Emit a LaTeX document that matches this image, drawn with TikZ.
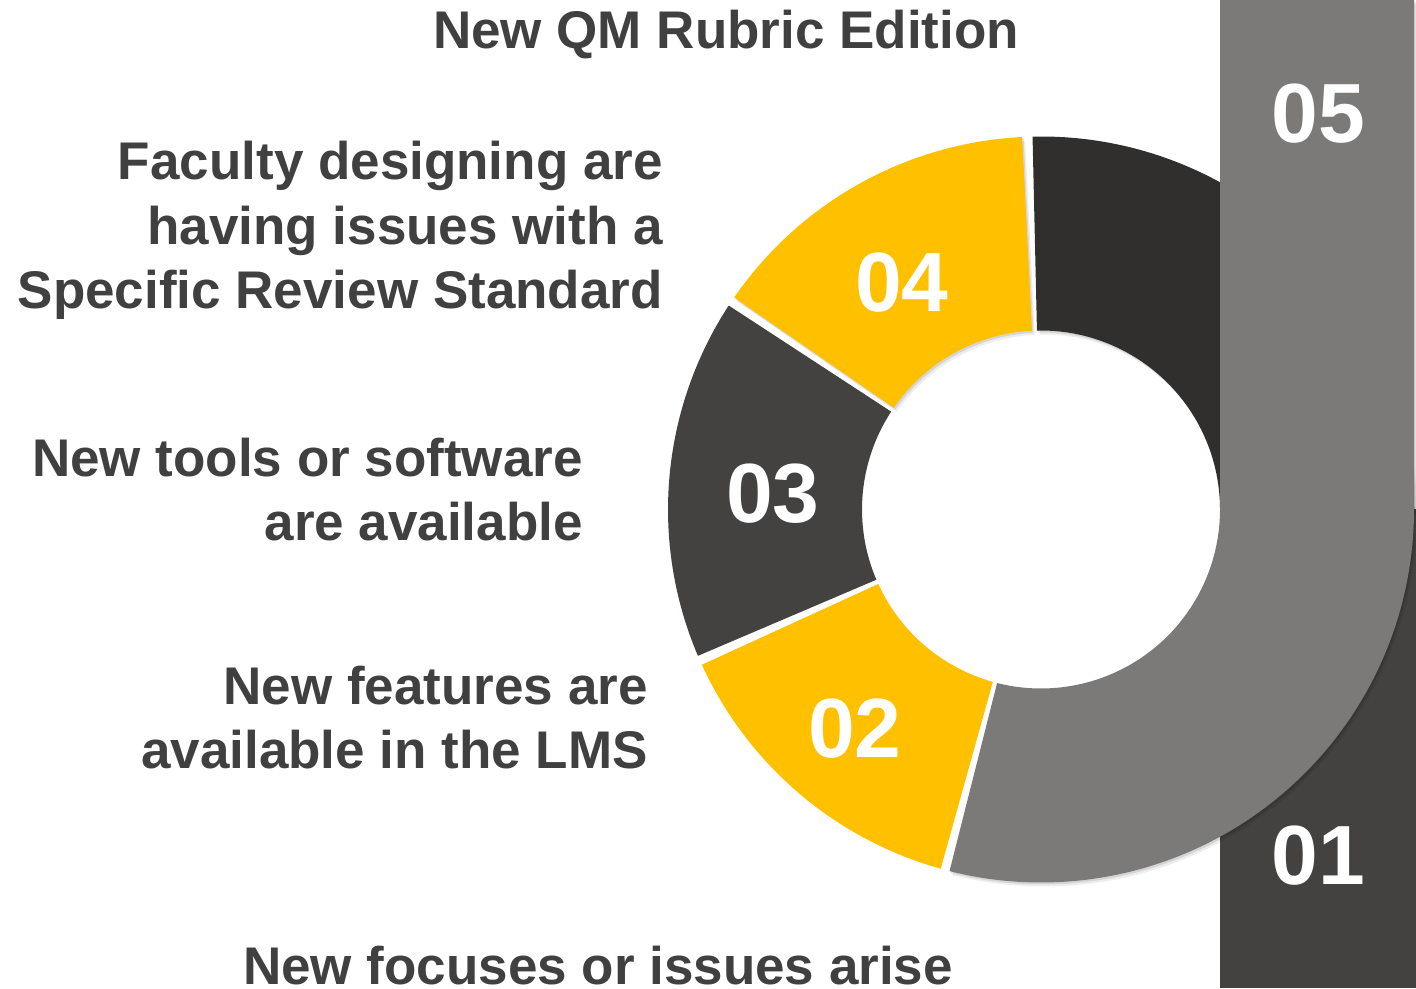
\documentclass[tikz,border=0pt]{standalone}
\usepackage{fontspec}
\setmainfont{Liberation Sans}
\usetikzlibrary{calc}
\definecolor{txt}{HTML}{404040}
\definecolor{qyellow}{HTML}{FFC000}
\definecolor{qdark}{HTML}{444240}
\definecolor{qdarker}{HTML}{302F2D}
\definecolor{qgray}{HTML}{7B7A78}
\definecolor{qbar}{HTML}{444240}
\newcommand{\qsector}[3][]{%
  \fill[#1] ($(C)+(#2:\qR)$) arc[start angle=#2,end angle=#3,radius=\qR]
    -- ($(C)+(#3:\qr)$) arc[start angle=#3,end angle=#2,radius=\qr] -- cycle;}
\begin{document}
\begin{tikzpicture}[x=1pt,y=1pt,
  lbl/.style={text=txt, font=\fontsize{53}{64.5}\selectfont\bfseries, inner sep=0pt},
  num/.style={text=white, font=\fontsize{84}{84}\selectfont\bfseries, inner sep=0pt, anchor=base},
  shad/.style={preaction={fill=black,opacity=0.10,transform canvas={xshift=1.5pt,yshift=-2pt}},
               preaction={fill=black,opacity=0.07,transform canvas={xshift=3pt,yshift=-4pt}}}
]
\useasboundingbox (0,0) rectangle (1416,988);
\coordinate (C) at (1041,478.5);
\def\qR{373}
\def\qr{179}
% dark lower bar
\fill[qbar] (1220,0) rectangle (1416,478.5);
% segments
\qsector[qdarker,shad]{0}{91.3}
\qsector[qdark]{146.85}{203.1}
\qsector[qyellow]{204.6}{254.4}
\qsector[qyellow,shad]{92.9}{145.35}
% gray J-shaped segment 01 with upper bar
\fill[qgray,shad] ($(C)+(255.8:\qR)$) arc[start angle=255.8,end angle=360,radius=\qR]
   -- (1414,988) -- (1220,988) -- ($(C)+(0:\qr)$)
   arc[start angle=360,end angle=255.8,radius=\qr] -- cycle;
% numbers
\node[num] (n05) at (1318,845) {05};
\node[num] (n04) at (902,676) {04};
\node[num] (n03) at (773,465) {03};
\node[num] (n02) at (855,230) {02};
\node[num] (n01) at (1318,103) {01};
% labels (base anchor = baseline of last line)
\node[lbl, anchor=base] (title) at (726,939) {New QM Rubric Edition};
\node[lbl, anchor=base east, align=right] (l04) at (663,679) {Faculty designing are\\having issues with a\\Specific Review Standard};
\node[lbl, anchor=base east, align=right] (l03) at (583,447) {New tools or software\\are available};
\node[lbl, anchor=base east, align=right] (l02) at (648,219) {New features are\\available in the LMS};
\node[lbl, anchor=base] (l01) at (598,4) {New focuses or issues arise};
\end{tikzpicture}
\end{document}
